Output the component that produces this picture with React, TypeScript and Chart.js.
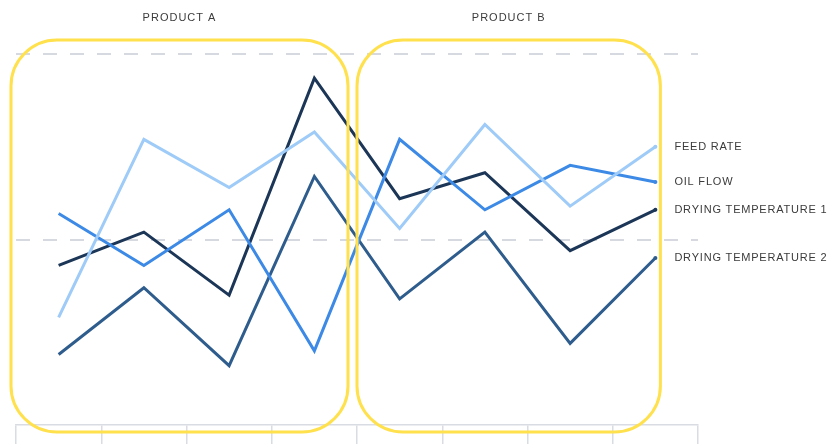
import React, { useEffect, useRef } from "react";
import { Chart, registerables } from "chart.js";

Chart.register(...registerables);

// Eight runs: four for each product
const categories = ["A1", "A2", "A3", "A4", "B1", "B2", "B3", "B4"];
const productLabels = ["PRODUCT A", "PRODUCT B"];

const feedRate = [29, 77, 64, 79, 53, 81, 59, 75];
const oilFlow = [57, 43, 58, 20, 77, 58, 70, 65.5];
const dryingTemp1 = [43, 52, 35, 93.5, 61, 68, 47, 58];
const dryingTemp2 = [19, 37, 16, 67, 34, 52, 22, 45];

const seriesNames = ["FEED RATE", "OIL FLOW", "DRYING TEMPERATURE 1", "DRYING TEMPERATURE 2"];
const seriesColors = ["#9ecbf7", "#3c8ae6", "#1c3657", "#2e5d8d"];

const yTicks = [0, 50, 100];

const FONT = '11px "Liberation Sans", Arial, sans-serif';

// Rounded product frames, product titles and end-of-line labels
const decorations = {
  id: "decorations",
  afterDatasetsDraw(chart: any) {
    const { ctx, chartArea, scales } = chart;
    const x = scales.x;
    const mid = (x.getPixelForValue(3) + x.getPixelForValue(4)) / 2;
    const lastX = x.getPixelForValue(categories.length - 1);
    const top = chartArea.top - 14;
    const bottom = chartArea.bottom + 7;
    const frames = [
      { l: chartArea.left - 5, r: mid - 9 },
      { l: mid, r: lastX + 5 },
    ];
    ctx.save();
    ctx.strokeStyle = "#ffe04d";
    ctx.lineWidth = 3;
    frames.forEach((f) => {
      ctx.beginPath();
      ctx.roundRect(f.l, top, f.r - f.l, bottom - top, 46);
      ctx.stroke();
    });

    ctx.fillStyle = "#3b3b3b";
    ctx.font = FONT;
    (ctx as any).letterSpacing = "1px";
    ctx.textAlign = "center";
    ctx.textBaseline = "middle";
    frames.forEach((f, i) => {
      ctx.fillText(productLabels[i], (f.l + f.r) / 2, 18);
    });

    ctx.textAlign = "left";
    (ctx as any).letterSpacing = "0.8px";
    chart.data.datasets.forEach((ds: any, i: number) => {
      const meta = chart.getDatasetMeta(i);
      const pt = meta.data[meta.data.length - 1];
      ctx.fillText(seriesNames[i], lastX + 19, pt.y);
    });
    ctx.restore();
  },
};

export default function App() {
  const canvasRef = useRef<HTMLCanvasElement | null>(null);

  useEffect(() => {
    if (!canvasRef.current) return;
    const series = [feedRate, oilFlow, dryingTemp1, dryingTemp2];
    const chart = new Chart(canvasRef.current, {
      type: "line",
      data: {
        labels: categories,
        datasets: series.map((d, i) => ({
          label: seriesNames[i],
          data: d,
          borderColor: seriesColors[i],
          backgroundColor: seriesColors[i],
          borderWidth: 3,
          tension: 0,
          pointRadius: (c: any) => (c.dataIndex === categories.length - 1 ? 2 : 0),
          pointBorderWidth: 0,
          clip: false as any,
        })),
      },
      options: {
        responsive: false,
        animation: false,
        layout: { padding: { left: 16, right: 137, top: 54, bottom: 0 } },
        plugins: {
          legend: { display: false },
          tooltip: { enabled: false },
        },
        scales: {
          x: {
            type: "category",
            offset: true,
            ticks: { display: false },
            grid: {
              offset: true,
              drawOnChartArea: false,
              drawTicks: true,
              tickLength: 19,
              color: "#d9dce2",
              lineWidth: 1.5,
            },
            border: { display: true, color: "#d9dce2", width: 1.5 },
          },
          y: {
            min: yTicks[0],
            max: yTicks[yTicks.length - 1],
            afterBuildTicks: (s: any) => {
              s.ticks = yTicks.map((v) => ({ value: v }));
            },
            ticks: { display: false },
            grid: {
              drawTicks: false,
              tickLength: 0,
              lineWidth: 2,
              color: (c: any) => (c.tick && c.tick.value === 0 ? "rgba(0,0,0,0)" : "#d6d9df"),
            },
            border: { display: false, dash: [14, 13] },
          },
        },
      },
      plugins: [decorations],
    });
    return () => chart.destroy();
  }, []);

  return (
    <div style={{ position: "absolute", left: 0, top: 0, width: 835, height: 444, background: "#fff" }}>
      <canvas ref={canvasRef} width={835} height={444} />
    </div>
  );
}
